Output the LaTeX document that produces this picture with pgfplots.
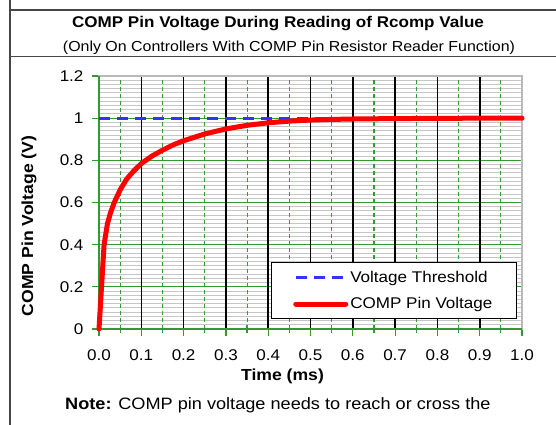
\documentclass[border=0pt]{standalone}
\usepackage{fontspec}
\setmainfont{Liberation Sans}[FakeStretch=1.1]
\usepackage{pgfplots}
\pgfplotsset{compat=1.18}
\definecolor{gcol}{RGB}{51,153,51}
\definecolor{bcol}{RGB}{51,51,255}
\definecolor{framecol}{RGB}{70,70,70}
\newcommand{\ticksize}{\fontsize{15.5}{18}\selectfont}
\begin{document}
\begin{tikzpicture}[x=1pt,y=1pt]
\useasboundingbox (0,0) rectangle (556,425);
\clip (0,0) rectangle (556,425);
% frame
\draw[framecol, line width=1.5pt] (10,0) -- (10,425);
\draw[framecol, line width=1.2pt] (10,415) -- (556,415);
\draw[framecol, line width=1.5pt] (10,368.5) -- (556,368.5);
% titles
\node[font=\fontsize{15.5}{18}\selectfont\bfseries] at (278,401) {COMP Pin Voltage During Reading of Rcomp Value};
\node[font=\fontsize{14.5}{17}\selectfont] at (289,377.5) {(Only On Controllers With COMP Pin Resistor Reader Function)};
\begin{axis}[
  at={(99pt,96pt)}, anchor=south west,
  width=423pt, height=253pt, scale only axis,
  xmin=0, xmax=1, ymin=0, ymax=1.2,
  xtick={0,0.1,0.2,0.3,0.4,0.5,0.6,0.7,0.8,0.9,1.0},
  ytick={0,0.2,0.4,0.6,0.8,1,1.2},
  minor x tick num=1,
  tickpos=left, tick align=center,
  major tick length=14pt, minor tick length=8pt,
  tick style={gcol, line width=1.2pt},
  axis line style={gray!55, line width=1.2pt},
  xticklabel style={yshift=-10pt, /pgf/number format/.cd, fixed, fixed zerofill, precision=1},
  yticklabel style={xshift=-5pt, /pgf/number format/.cd, fixed},
  /pgf/number format/assume math mode=true,
  ticklabel style={font=\ticksize},
  clip=false,
  legend style={at={(0.988,0.04)}, anchor=south east, draw=black, fill=white,
    line width=1pt, inner xsep=22pt, inner ysep=6pt, row sep=10pt,
    font=\fontsize{15.5}{18}\selectfont, nodes={inner sep=2pt}},
  legend cell align=left,
  legend image code/.code={\draw[#1] (0pt,0pt) -- (50pt,0pt);},
]
\pgfplotsinvokeforeach{1,...,59}{
  \draw[gray!45, line width=1pt] (rel axis cs:0,{#1/60}) -- (rel axis cs:1,{#1/60});}
\pgfplotsinvokeforeach{0.2,0.4,0.6,0.8,1.0}{
  \draw[gcol, line width=1.2pt] (axis cs:0,#1) -- (axis cs:1,#1);}
\pgfplotsinvokeforeach{0.05,0.15,0.25,0.35,0.45,0.55,0.65,0.75,0.85,0.95}{
  \draw[gcol, line width=1.1pt, dash pattern=on 4pt off 3pt] (axis cs:#1,0) -- (axis cs:#1,1.2);}
\pgfplotsinvokeforeach{0.1,0.2,0.3,0.4,0.5,0.6,0.7,0.8,0.9}{
  \draw[black, line width=1.6pt] (axis cs:#1,0) -- (axis cs:#1,1.2);}
\draw[gray!55, line width=1.2pt] (rel axis cs:1,0) -- (rel axis cs:1,1);
\draw[gray!55, line width=1.2pt] (rel axis cs:0,1) -- (rel axis cs:1,1);
\draw[gcol, line width=1.2pt] (rel axis cs:0,0) -- (rel axis cs:0,1);
\draw[gcol, line width=1.2pt] (rel axis cs:0,0) -- (rel axis cs:1,0);
\addplot[bcol, line width=3pt, dash pattern=on 11pt off 7pt] coordinates {(0,1) (1,1)};
\addlegendentry{Voltage Threshold}
\addplot[red, line width=5pt, line join=round, line cap=round] coordinates {
(0,0) (0.003,0.1) (0.006,0.2) (0.009,0.3) (0.012,0.4) (0.016,0.45) (0.02,0.5)
(0.027,0.55) (0.036,0.6) (0.05,0.66) (0.065,0.71) (0.08,0.745) (0.1,0.785)
(0.125,0.82) (0.15,0.848) (0.175,0.873) (0.2,0.893) (0.25,0.925) (0.3,0.949)
(0.35,0.966) (0.4,0.978) (0.45,0.986) (0.5,0.991) (0.55,0.994) (0.6,0.996)
(0.7,0.998) (0.8,0.999) (0.9,1.0) (1.0,1.0)};
\addlegendentry{COMP Pin Voltage}
\end{axis}
\node[font=\fontsize{16}{19}\selectfont\bfseries, rotate=90] at (29,199) {COMP Pin Voltage (V)};
\node[font=\fontsize{16}{19}\selectfont\bfseries] at (282.5,49) {Time (ms)};
\node[font=\fontsize{16.5}{19}\selectfont, anchor=west, inner sep=0pt] at (65,20) {\textbf{Note:} COMP pin voltage needs to reach or cross the};
\end{tikzpicture}
\end{document}
